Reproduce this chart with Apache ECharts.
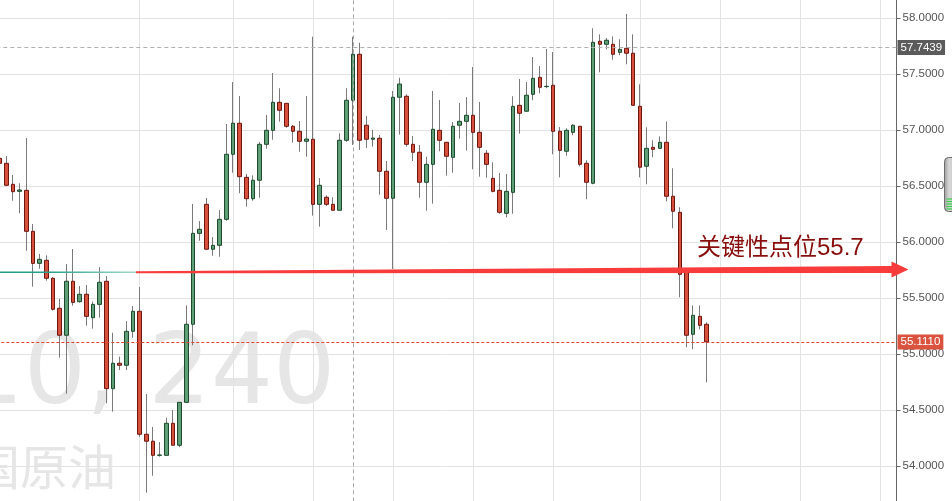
<!DOCTYPE html>
<html>
<head>
<meta charset="utf-8">
<script src="https://cdn.jsdelivr.net/npm/echarts@6/dist/echarts.min.js"></script>
<style>
html,body{margin:0;padding:0;background:#fff;}
#c{width:952px;height:501px;}
</style>
</head>
<body>
<div id="c"></div>
<script>
// ---- data (4H candles) ----
const opens = [56.750,56.705,56.518,56.455,56.464,56.098,55.812,55.839,55.679,55.411,55.170,55.652,55.470,55.536,55.327,55.446,55.652,54.693,54.920,54.902,55.205,55.384,54.286,54.224,54.098,54.098,54.384,54.188,54.571,55.268,56.080,56.339,55.938,55.973,56.205,56.786,57.063,56.580,56.389,56.554,56.875,57.000,57.250,57.241,57.036,56.991,56.902,56.920,56.339,56.402,56.339,56.286,56.911,57.268,57.679,57.045,56.920,56.929,56.634,56.393,57.295,57.304,56.875,56.804,56.536,56.696,57.000,56.893,56.759,57.045,57.080,57.134,56.982,56.795,56.571,56.464,56.259,56.446,57.223,57.170,57.321,57.473,57.390,57.402,56.991,56.813,56.982,57.036,56.705,56.527,57.795,57.768,57.768,57.696,57.732,57.688,57.214,56.679,56.848,56.839,56.893,56.411,56.268,55.741,55.179,55.339,55.268];
const closes = [56.705,56.509,56.452,56.467,56.098,55.812,55.848,55.679,55.402,55.170,55.652,55.464,55.536,55.339,55.446,55.643,54.693,54.920,54.902,55.205,55.384,54.286,54.224,54.098,54.101,54.384,54.188,54.571,55.268,56.080,56.116,55.938,55.973,56.205,56.786,57.063,56.586,56.389,56.554,56.875,57.000,57.250,57.179,57.036,56.991,56.902,56.922,56.339,56.509,56.339,56.286,56.911,57.268,57.679,56.911,56.920,56.931,56.634,56.393,57.295,57.413,56.875,56.804,56.536,56.696,57.009,56.911,56.768,57.036,57.080,57.134,56.982,56.848,56.696,56.455,56.268,56.455,57.214,57.152,57.313,57.464,57.384,57.393,56.991,56.821,57.000,57.045,56.696,56.536,57.786,57.768,57.804,57.679,57.723,57.688,57.223,56.670,56.839,56.830,56.893,56.411,56.277,55.714,55.170,55.348,55.259,55.111];
const lows = [56.690,56.503,56.371,56.259,55.925,55.604,55.764,55.657,55.390,54.970,54.648,55.434,55.461,55.255,55.229,55.327,54.562,54.488,54.860,54.860,55.148,54.264,53.764,53.916,54.086,54.098,54.188,54.170,54.571,55.080,56.014,55.938,55.880,55.871,56.193,56.621,56.438,56.318,56.371,56.398,56.836,56.916,57.077,57.023,56.889,56.809,56.764,56.238,56.139,56.324,56.286,56.286,56.898,56.869,56.824,56.842,56.854,56.425,56.110,55.762,56.961,56.854,56.726,56.398,56.282,56.345,56.813,56.595,56.621,56.925,56.818,56.652,56.586,56.577,56.446,56.255,56.223,56.255,56.970,57.170,57.268,57.330,57.375,56.786,56.580,56.773,56.955,56.679,56.384,56.518,57.518,57.723,57.630,57.670,57.589,57.223,56.580,56.518,56.759,56.839,56.366,56.125,55.509,55.063,55.045,55.223,54.750];
const highs = [56.760,56.770,56.601,56.527,56.931,56.163,55.896,55.884,55.690,55.494,55.806,55.940,55.610,55.619,55.470,55.779,55.699,55.193,54.979,55.297,55.431,55.601,54.646,54.351,54.217,54.434,54.503,54.571,55.437,56.342,56.190,56.396,56.047,56.288,57.056,57.431,57.306,56.610,56.598,56.896,57.137,57.512,57.375,57.241,57.047,57.083,57.306,57.836,56.574,56.420,56.402,56.973,57.375,57.836,57.782,57.128,57.003,56.958,56.726,57.351,57.470,57.321,56.949,56.869,56.764,57.351,57.271,56.893,57.074,57.244,57.297,57.565,57.253,56.824,56.714,56.619,56.610,57.304,57.458,57.431,57.654,57.574,57.726,57.699,57.029,57.018,57.054,57.036,56.732,57.911,57.857,57.824,57.839,57.813,58.038,57.857,57.411,57.027,56.911,56.946,57.080,56.661,56.313,55.741,55.437,55.437,55.286];

const slotCount = 135;                      // candle slots incl. empty future space
const categories = Array.from({length: slotCount}, (_, i) => 'K' + (i + 1));
const yTicks = {min: 53.5, max: 58.5, interval: 0.5};
const dayLineSlots = [21, 35, 47, 59, 71, 83, 96, 108, 120, 132];
const crossSlot = 53;
const lastPrice = 55.111;
const markPrice = 57.7439;
const keyLevelStart = 55.732;
const keyLevelEnd = 55.757;
const keyLabel = '关键性点位55.7';
const arrowStartSlot = 20;
const watermark1 = '10, 240';
const watermark2 = '美国原油';

// ---- chart ----
const chart = echarts.init(document.getElementById('c'), null, {renderer: 'canvas', width: 952, height: 501});
const wickData = opens.map((o, i) => [o, closes[i], lows[i], highs[i]]);
const bodyData = opens.map((o, i) => [o, closes[i], Math.min(o, closes[i]), Math.max(o, closes[i])]);
const labelFont = {fontSize: 11.5, fontFamily: 'Liberation Sans, Arial, sans-serif'};

const option = {
  animation: false,
  backgroundColor: '#ffffff',
  grid: {left: -3.7, right: 55.5, top: -37.7, bottom: -21.3, containLabel: false, outerBoundsMode: 'none'},
  xAxis: {
    type: 'category', data: categories, boundaryGap: true,
    axisLine: {show: false}, axisTick: {show: false}, axisLabel: {show: false}, splitLine: {show: false}
  },
  yAxis: {
    type: 'value', position: 'right', min: yTicks.min, max: yTicks.max, interval: yTicks.interval,
    axisLine: {show: true, lineStyle: {color: '#666', width: 1}},
    axisTick: {show: true, inside: false, length: 4, lineStyle: {color: '#666'}},
    axisLabel: Object.assign({color: '#555', margin: 6, formatter: v => v.toFixed(4)}, labelFont),
    splitLine: {show: true, lineStyle: {color: '#e3e3e3', width: 1}}
  },
  series: [
    {
      type: 'candlestick', name: 'wick', data: wickData, barWidth: 1, z: 2,
      itemStyle: {color: '#7a7a7a', color0: '#7a7a7a', borderColor: '#7a7a7a', borderColor0: '#7a7a7a', borderWidth: 1},
      markLine: {
        z: 1, silent: true, symbol: 'none', animation: false,
        label: {show: false},
        lineStyle: {color: '#e3e3e3', width: 1, type: 'solid'},
        data: dayLineSlots.map(i => ({xAxis: categories[i]}))
      }
    },
    {
      type: 'candlestick', name: 'body', data: bodyData, barWidth: 4, z: 3,
      itemStyle: {color: '#5e9f78', color0: '#d6503c', borderColor: '#1d4a2c', borderColor0: '#6e1610', borderWidth: 1},
      markLine: {
        silent: true, symbol: 'none', animation: false,
        data: [
          {xAxis: categories[crossSlot], lineStyle: {color: '#aaaaaa', type: [4, 3], width: 1}, label: {show: false}},
          {yAxis: markPrice, lineStyle: {color: '#b0b0b0', type: [4, 3], width: 1},
           label: Object.assign({show: true, position: 'end', distance: 1, formatter: markPrice.toFixed(4),
             color: '#fff', backgroundColor: '#5b5b5b', padding: [2, 3, 1, 3]}, labelFont)},
          {yAxis: lastPrice, lineStyle: {color: '#e0452f', type: [3, 2], width: 1},
           label: Object.assign({show: true, position: 'end', distance: 1, formatter: lastPrice.toFixed(4),
             color: '#fff', backgroundColor: '#d9533f', padding: [2, 3, 1, 3]}, labelFont)}
        ]
      }
    }
  ]
};
chart.setOption(option);

// ---- annotations placed through the chart's own scales ----
const gridRight = 952 - 55.5;
const [xs, yL] = chart.convertToPixel({gridIndex: 0}, [categories[arrowStartSlot], keyLevelStart]);
const yR = chart.convertToPixel({gridIndex: 0}, [categories[0], keyLevelEnd])[1];
const ax0 = xs + 3, axH = gridRight - 5, axT = gridRight + 12;

chart.setOption({
  graphic: [
    {type: 'text', z: -1, x: -38.7, y: 378, silent: true,
     style: {text: watermark1, fontSize: 98, fontFamily: 'DejaVu Sans', fill: '#e6e6e6', align: 'left', verticalAlign: 'middle'}},
    {type: 'text', z: -1, x: -76, y: 467, silent: true,
     style: {text: watermark2, fontSize: 48, fontFamily: 'Noto Sans CJK SC', fill: '#e6e6e6', align: 'left', verticalAlign: 'middle'}},
    {type: 'line', z: 50, silent: true,
     shape: {x1: 0, y1: yL, x2: ax0, y2: yL},
     style: {lineWidth: 1.5, stroke: new echarts.graphic.LinearGradient(0, 0, 1, 0, [
       {offset: 0, color: '#1f9d86'}, {offset: 0.38, color: '#2aa18c'}, {offset: 1, color: '#a6dbcf'}])}},
    {type: 'polygon', z: 60, silent: true,
     shape: {points: [[ax0, yL - 1], [axH, yR - 3.5], [axH, yR - 8], [axT, yR], [axH, yR + 8], [axH, yR + 3.5], [ax0, yL + 1]]},
     style: {fill: '#f83c3c'}},
    {type: 'text', z: 61, x: 697, y: yR - 21, silent: true,
     style: {text: keyLabel, fontSize: 24, fontFamily: 'Liberation Sans, Noto Sans CJK SC', fill: '#880d0d', align: 'left', verticalAlign: 'middle'}},
    {type: 'rect', z: 70, silent: true,
     shape: {x: 944.5, y: 157.5, width: 12, height: 54, r: 4},
     style: {fill: new echarts.graphic.LinearGradient(0, 0, 1, 0, [{offset: 0, color: '#9a9a9a'}, {offset: 0.4, color: '#d8d8d8'}, {offset: 1, color: '#bdbdbd'}]), stroke: '#6d6d6d', lineWidth: 1}},
    {type: 'group', z: 71, silent: true, children: [199, 201.5, 204, 206.5, 209].map(y => ({
      type: 'line', z: 71, shape: {x1: 946.5, y1: y, x2: 952, y2: y}, style: {stroke: '#36d04a', lineWidth: 1.2}}))}
  ]
});
</script>
</body>
</html>
